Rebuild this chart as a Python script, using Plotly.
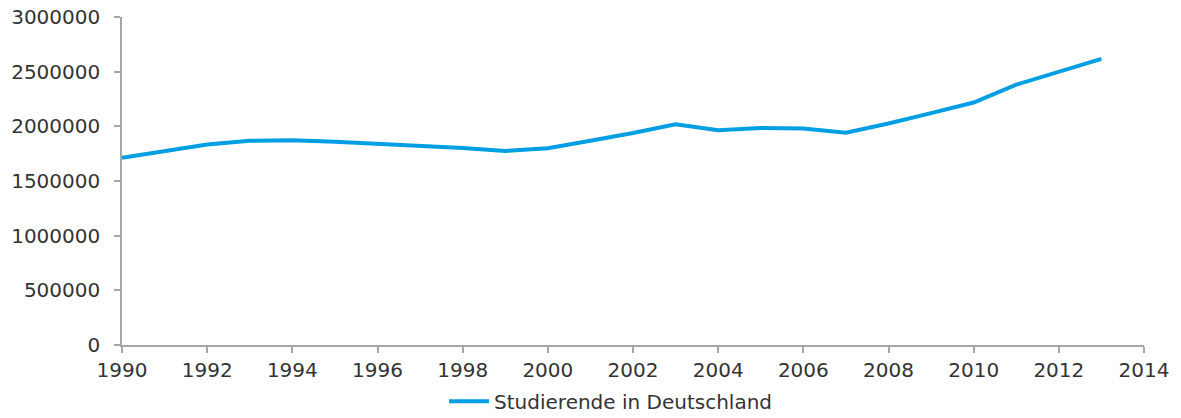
import plotly.graph_objects as go

# Studierende in Deutschland, 1990-2013
years = [1990, 1991, 1992, 1993, 1994, 1995, 1996, 1997, 1998, 1999, 2000, 2001,
         2002, 2003, 2004, 2005, 2006, 2007, 2008, 2009, 2010, 2011, 2012, 2013]
students = [1712608, 1775661, 1834341, 1867264, 1872490, 1857906, 1838099, 1824107,
            1801233, 1773956, 1799338, 1868666, 1939233, 2019831, 1963598, 1985765,
            1979043, 1941405, 2025742, 2121190, 2217604, 2380974, 2499409, 2616881]
series_name = "Studierende in Deutschland"

x_ticks = list(range(1990, 2015, 2))
y_ticks = [0, 500000, 1000000, 1500000, 2000000, 2500000, 3000000]

FONT = "DejaVu Sans"
TEXT = "#333333"
AXIS = "#a6a6a6"
FS = 20

fig = go.Figure()
fig.add_trace(go.Scatter(
    x=years, y=students, mode="lines", name=series_name,
    line=dict(color="#009fe3", width=4),
))

fig.update_layout(
    width=1181, height=418,
    margin=dict(l=122, r=37, t=17, b=73, autoexpand=False),
    paper_bgcolor="white", plot_bgcolor="white",
    font=dict(family=FONT, size=FS, color=TEXT),
    showlegend=True,
    legend=dict(
        orientation="h", xref="container", yref="container",
        x=0.517, y=0.04, xanchor="center", yanchor="middle",
        font=dict(family=FONT, size=FS, color=TEXT),
        itemwidth=40,
    ),
)

fig.update_xaxes(
    range=[1990, 2014], tickvals=x_ticks, ticktext=[str(v) for v in x_ticks],
    showgrid=False, zeroline=False, automargin=False,
    showline=True, linecolor=AXIS, linewidth=1.5,
    ticks="outside", ticklen=6, tickcolor=AXIS, tickwidth=1.5,
    tickfont=dict(family=FONT, size=FS, color=TEXT),
)
fig.update_yaxes(
    range=[0, 3000000], tickvals=y_ticks, ticktext=[str(v) for v in y_ticks],
    showgrid=False, zeroline=False, automargin=False,
    showline=True, linecolor=AXIS, linewidth=1.5,
    ticks="outside", ticklen=6, tickcolor=AXIS, tickwidth=1.5,
    ticklabelstandoff=10,
    tickfont=dict(family=FONT, size=FS, color=TEXT),
)

fig.write_html("out.html")
